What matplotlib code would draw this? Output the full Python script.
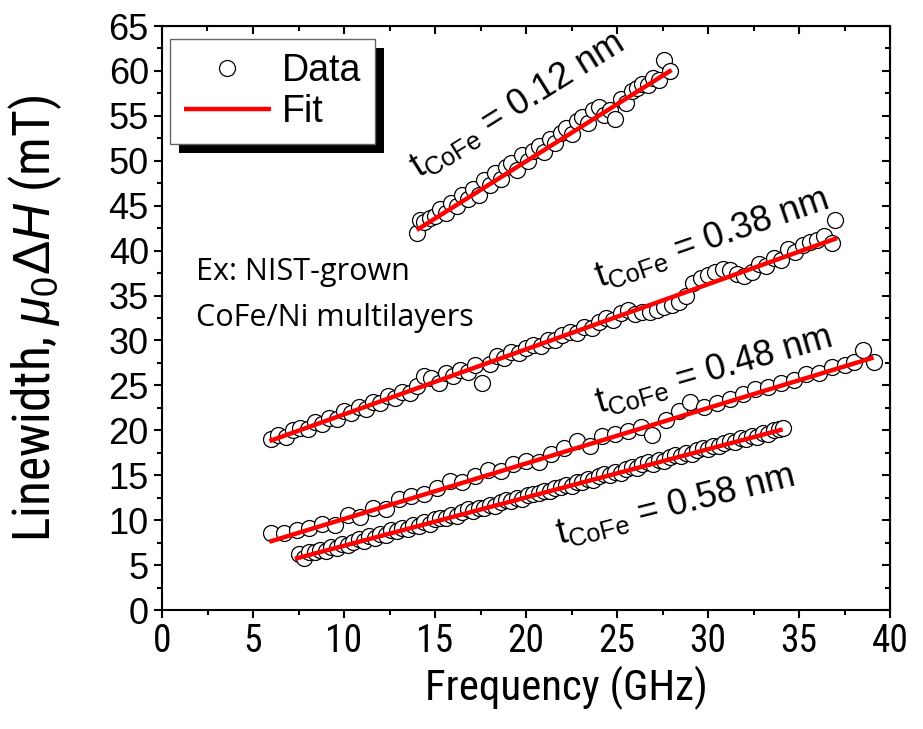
import matplotlib
matplotlib.use('Agg')
from matplotlib import pyplot as plt
from matplotlib.ticker import MultipleLocator
from matplotlib.patches import Rectangle
from matplotlib.transforms import IdentityTransform

plt.rcParams['font.family'] = ['Liberation Sans', 'DejaVu Sans']
plt.rcParams['mathtext.fontset'] = 'custom'
plt.rcParams['mathtext.rm'] = 'Liberation Sans'
plt.rcParams['mathtext.it'] = 'Liberation Sans:italic'

narrow = ['Liberation Sans Narrow', 'Roboto Condensed', 'DejaVu Sans Condensed', 'Liberation Sans']

# t_CoFe = 0.12 nm
freq_012 = [14.0, 14.2, 14.4, 14.7, 15.0, 15.3, 15.6, 15.9, 16.2, 16.5, 16.8, 17.1,
            17.4, 17.7, 18.0, 18.3, 18.6, 18.9, 19.2, 19.5, 19.8, 20.1, 20.4, 20.7,
            21.0, 21.3, 21.6, 21.9, 22.2, 22.5, 22.8, 23.1, 23.4, 23.7, 24.0, 24.3,
            24.6, 24.9, 25.2, 25.5, 25.8, 26.1, 26.4, 26.7, 27.0, 27.3, 27.6, 27.9]
dH_012 = [42.0, 43.4, 43.2, 43.6, 43.9, 44.6, 44.2, 45.3, 45.0, 46.2, 45.8, 46.9,
          46.2, 47.9, 47.3, 48.6, 48.0, 49.3, 49.8, 49.0, 50.6, 50.0, 51.1, 51.6,
          51.0, 52.4, 52.0, 53.1, 53.6, 53.0, 54.4, 54.9, 54.2, 55.6, 56.0, 55.1,
          55.6, 54.6, 56.9, 56.4, 57.8, 58.1, 58.6, 58.4, 59.2, 59.0, 61.2, 60.0]

# t_CoFe = 0.38 nm
freq_038 = [6.0, 6.4, 6.8, 7.2, 7.6, 8.0, 8.4, 8.8, 9.2, 9.6, 10.0, 10.4, 10.8,
            11.2, 11.6, 12.0, 12.4, 12.8, 13.2, 13.6, 14.0, 14.4, 14.8, 15.2, 15.6,
            16.0, 16.4, 16.8, 17.2, 17.6, 18.0, 18.4, 18.8, 19.2, 19.6, 20.0, 20.4,
            20.8, 21.2, 21.6, 22.0, 22.4, 22.8, 23.2, 23.6, 24.0, 24.4, 24.8, 25.2,
            25.6, 26.0, 26.4, 26.8, 27.2, 27.6, 28.0, 28.4, 28.8, 29.2, 29.6, 30.0,
            30.4, 30.8, 31.2, 31.6, 32.0, 32.4, 32.8, 33.2, 33.6, 34.0, 34.4, 34.8,
            35.2, 35.6, 36.0, 36.4, 36.8, 37.0]
dH_038 = [19.0, 19.5, 19.3, 20.0, 20.3, 20.2, 20.9, 20.7, 21.4, 21.3, 22.2, 21.9, 22.6,
          22.4, 23.2, 23.0, 23.8, 23.6, 24.3, 24.2, 24.9, 26.1, 25.8, 25.3, 26.4,
          26.0, 26.7, 26.5, 27.3, 25.3, 27.4, 28.3, 28.0, 28.7, 28.6, 29.2, 29.5,
          29.4, 30.1, 30.0, 30.6, 30.9, 30.8, 31.5, 31.4, 32.1, 32.5, 32.3, 33.1,
          33.4, 33.0, 33.2, 33.2, 33.4, 33.7, 34.0, 34.3, 35.0, 36.4, 36.9, 37.3,
          37.6, 37.9, 37.8, 37.4, 37.2, 37.6, 38.5, 38.3, 39.2, 38.9, 40.2, 39.8,
          40.6, 41.0, 41.2, 41.6, 40.8, 43.4]

# t_CoFe = 0.48 nm
freq_048 = [6.0, 6.7, 7.4, 8.1, 8.8, 9.5, 10.2, 10.9, 11.6, 12.3, 13.0, 13.7, 14.4,
            15.1, 15.8, 16.5, 17.2, 17.9, 18.6, 19.3, 20.0, 20.7, 21.4, 22.1, 22.8,
            23.5, 24.2, 24.9, 25.6, 26.3, 26.9, 27.7, 28.4, 29.0, 29.8, 30.5, 31.2,
            31.9, 32.6, 33.3, 34.0, 34.7, 35.4, 36.1, 36.8, 37.5, 38.0, 38.5, 39.1]
dH_048 = [8.6, 8.6, 8.9, 9.1, 9.6, 9.5, 10.6, 10.4, 11.4, 11.2, 12.3, 12.7, 12.9,
          13.6, 14.4, 14.2, 14.9, 15.6, 15.5, 16.2, 16.6, 16.5, 17.4, 18.0, 18.8,
          18.3, 19.4, 19.6, 19.9, 20.4, 19.5, 21.1, 22.2, 23.1, 22.6, 23.0, 23.5,
          24.0, 24.6, 24.8, 25.3, 25.6, 26.3, 26.4, 27.0, 27.3, 27.6, 28.9, 27.6]

# t_CoFe = 0.58 nm
freq_058 = [7.5, 7.8, 8.1, 8.4, 8.7, 9.0, 9.3, 9.6, 9.9, 10.2, 10.5, 10.8, 11.1,
            11.4, 11.7, 12.0, 12.3, 12.6, 12.9, 13.2, 13.5, 13.8, 14.1, 14.4, 14.7,
            15.0, 15.3, 15.6, 15.9, 16.2, 16.5, 16.8, 17.1, 17.4, 17.7, 18.0, 18.3,
            18.6, 18.9, 19.2, 19.5, 19.8, 20.1, 20.4, 20.7, 21.0, 21.3, 21.6, 21.9,
            22.2, 22.5, 22.8, 23.1, 23.4, 23.7, 24.0, 24.3, 24.6, 24.9, 25.2, 25.5,
            25.8, 26.1, 26.4, 26.7, 27.0, 27.3, 27.6, 27.9, 28.2, 28.5, 28.8, 29.1,
            29.4, 29.7, 30.0, 30.3, 30.6, 30.9, 31.2, 31.5, 31.8, 32.1, 32.4, 32.7,
            33.0, 33.3, 33.6, 33.9, 34.1]
dH_058 = [6.2, 5.8, 6.5, 6.4, 6.7, 6.6, 7.0, 6.9, 7.3, 7.2, 7.6, 7.9, 7.7,
          8.2, 8.0, 8.5, 8.4, 8.9, 8.8, 9.1, 9.0, 9.5, 9.4, 9.8, 9.6,
          10.1, 10.2, 10.2, 10.6, 10.5, 10.9, 11.2, 11.0, 11.4, 11.3, 11.7, 11.6,
          12.0, 12.2, 12.1, 12.5, 12.4, 12.8, 12.9, 13.0, 13.3, 13.2, 13.6, 13.7,
          13.9, 13.8, 14.3, 14.2, 14.6, 14.5, 14.9, 15.1, 15.0, 15.4, 15.3, 15.7,
          15.9, 15.8, 16.2, 16.5, 16.3, 16.7, 16.6, 17.0, 17.2, 17.1, 17.5, 17.4,
          17.8, 18.0, 17.9, 18.3, 18.2, 18.6, 18.8, 18.7, 19.1, 19.0, 19.4, 19.3,
          19.7, 19.6, 20.0, 20.1, 20.3]

# linear fits (end points of each fitted line)
fit_012_x, fit_012_y = [14.0, 28.0], [42.3, 60.1]
fit_038_x, fit_038_y = [5.9, 37.1], [18.8, 41.4]
fit_048_x, fit_048_y = [5.9, 39.1], [7.6, 28.1]
fit_058_x, fit_058_y = [7.3, 34.1], [5.7, 20.1]

series = [(freq_012, dH_012, fit_012_x, fit_012_y),
          (freq_038, dH_038, fit_038_x, fit_038_y),
          (freq_048, dH_048, fit_048_x, fit_048_y),
          (freq_058, dH_058, fit_058_x, fit_058_y)]

# label text, x, y, rotation
labels = [('0.12', 19.5, 56.2, 32),
          ('0.38', 30.2, 41.4, 19),
          ('0.48', 30.3, 26.7, 16),
          ('0.58', 28.2, 11.7, 14)]

fig = plt.figure(figsize=(9.23, 7.29), dpi=100)
ax = fig.add_axes([162 / 923, 1 - 610 / 729, (890 - 162) / 923, (610 - 26) / 729])

for f, d, fx, fy in series:
    pts, = ax.plot(f, d, 'o', ms=11.5, mfc='white', mec='black', mew=0.9, zorder=2)
    fit, = ax.plot(fx, fy, '-', color='#ff0000', lw=3.2, zorder=3, solid_capstyle='butt')
    if f is freq_012:
        data_handle, fit_handle = pts, fit

for thick, x, y, rot in labels:
    ax.text(x, y, r'$\mathrm{t_{CoFe}}$ = ' + thick + ' nm', fontsize=26,
            rotation=rot, ha='center', va='center', rotation_mode='anchor')

ax.text(1.87, 39.3, 'Ex: NIST-grown\nCoFe/Ni multilayers', fontsize=22,
        family=['Open Sans', 'DejaVu Sans'], ha='left', va='top', linespacing=1.7)

ax.set_xlim(0, 40)
ax.set_ylim(0, 65)
ax.xaxis.set_major_locator(MultipleLocator(5))
ax.xaxis.set_minor_locator(MultipleLocator(2.5))
ax.yaxis.set_major_locator(MultipleLocator(5))
ax.yaxis.set_minor_locator(MultipleLocator(2.5))
ax.tick_params(which='both', direction='out', width=1.5)
ax.tick_params(which='major', length=6)
ax.tick_params(which='minor', length=3.5)
for lab in ax.get_xticklabels():
    lab.set_family(narrow)
    lab.set_stretch('condensed')
    lab.set_fontsize(27)
for lab in ax.get_yticklabels():
    lab.set_fontsize(26)
for s in ax.spines.values():
    s.set_linewidth(1.5)

# mirrored axes on top and right with inward ticks
top = ax.secondary_xaxis('top')
top.xaxis.set_major_locator(MultipleLocator(5))
top.xaxis.set_minor_locator(MultipleLocator(2.5))
top.tick_params(which='both', direction='in', width=1.5, labeltop=False)
top.tick_params(which='major', length=6)
top.tick_params(which='minor', length=3.5)
right = ax.secondary_yaxis('right')
right.yaxis.set_major_locator(MultipleLocator(5))
right.yaxis.set_minor_locator(MultipleLocator(2.5))
right.tick_params(which='both', direction='in', width=1.5, labelright=False)
right.tick_params(which='major', length=6)
right.tick_params(which='minor', length=3.5)

ax.set_xlabel('Frequency (GHz)', fontsize=31, family=narrow, stretch='condensed')
ax.xaxis.set_label_coords(0.555, -0.095)
ax.set_ylabel(r'Linewidth, $\mu_0\Delta H$ (mT)', fontsize=37, family=narrow,
              stretch='condensed')
ax.yaxis.set_label_coords(-0.135, 0.50)

leg = ax.legend([data_handle, fit_handle], ['Data', 'Fit'], loc='upper left',
                bbox_to_anchor=(170 / 923, 1 - 39 / 729), bbox_transform=fig.transFigure,
                borderaxespad=0, fontsize=27, fancybox=False, framealpha=1,
                edgecolor='#666666', handlelength=2.3, handletextpad=0.3,
                labelspacing=0.12, borderpad=0.38)
leg.get_frame().set_linewidth(1.0)

fig.canvas.draw()
bb = leg.get_frame().get_window_extent()
shadow = Rectangle((bb.x0 + 9, bb.y0 - 9), bb.width, bb.height, transform=IdentityTransform(),
                   facecolor='black', edgecolor='none', zorder=4.9, clip_on=False)
ax.add_artist(shadow)

plt.savefig('out.png', dpi=100)
